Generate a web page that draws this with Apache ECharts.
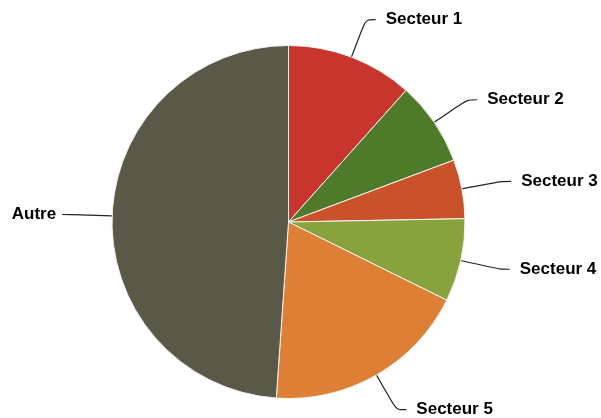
<!DOCTYPE html>
<html>
<head>
<meta charset="utf-8">
<script src="https://cdn.jsdelivr.net/npm/echarts@6/dist/echarts.min.js"></script>
<style>html,body{margin:0;padding:0;background:#fff}#c{width:601px;height:418px}</style>
</head>
<body>
<div id="c"></div>
<script>
const categories = ["Secteur 1", "Secteur 2", "Secteur 3", "Secteur 4", "Secteur 5", "Autre"];
const values = [11.6, 7.7, 5.4, 7.6, 18.8, 48.9];
const colors = ["#c8352c", "#4e7a2a", "#c9522a", "#88a23e", "#dd7f35", "#5a5847"];

const chart = echarts.init(document.getElementById('c'), null, {renderer: 'canvas'});
chart.setOption({
  animation: false,
  backgroundColor: '#ffffff',
  series: [{
    type: 'pie',
    center: [288.5, 222],
    radius: 176.5,
    startAngle: 90,
    clockwise: true,
    avoidLabelOverlap: false,
    data: categories.map((c, i) => {
      const d = {name: c, value: values[i], itemStyle: {color: colors[i]}};
      if (c === 'Autre') d.label = {distanceToLabelLine: 6};
      return d;
    }),
    itemStyle: {borderColor: '#f4f4f0', borderWidth: 1},
    label: {
      show: true,
      formatter: '{b}',
      color: '#000',
      fontFamily: 'Liberation Sans, Arial, sans-serif',
      fontWeight: 'bold',
      fontSize: 17,
      distanceToLabelLine: 10
    },
    labelLine: {
      show: true,
      length: 40,
      length2: 10,
      smooth: 0.3,
      lineStyle: {color: '#222', width: 1.2}
    },
    emphasis: {disabled: true}
  }]
});
</script>
</body>
</html>
